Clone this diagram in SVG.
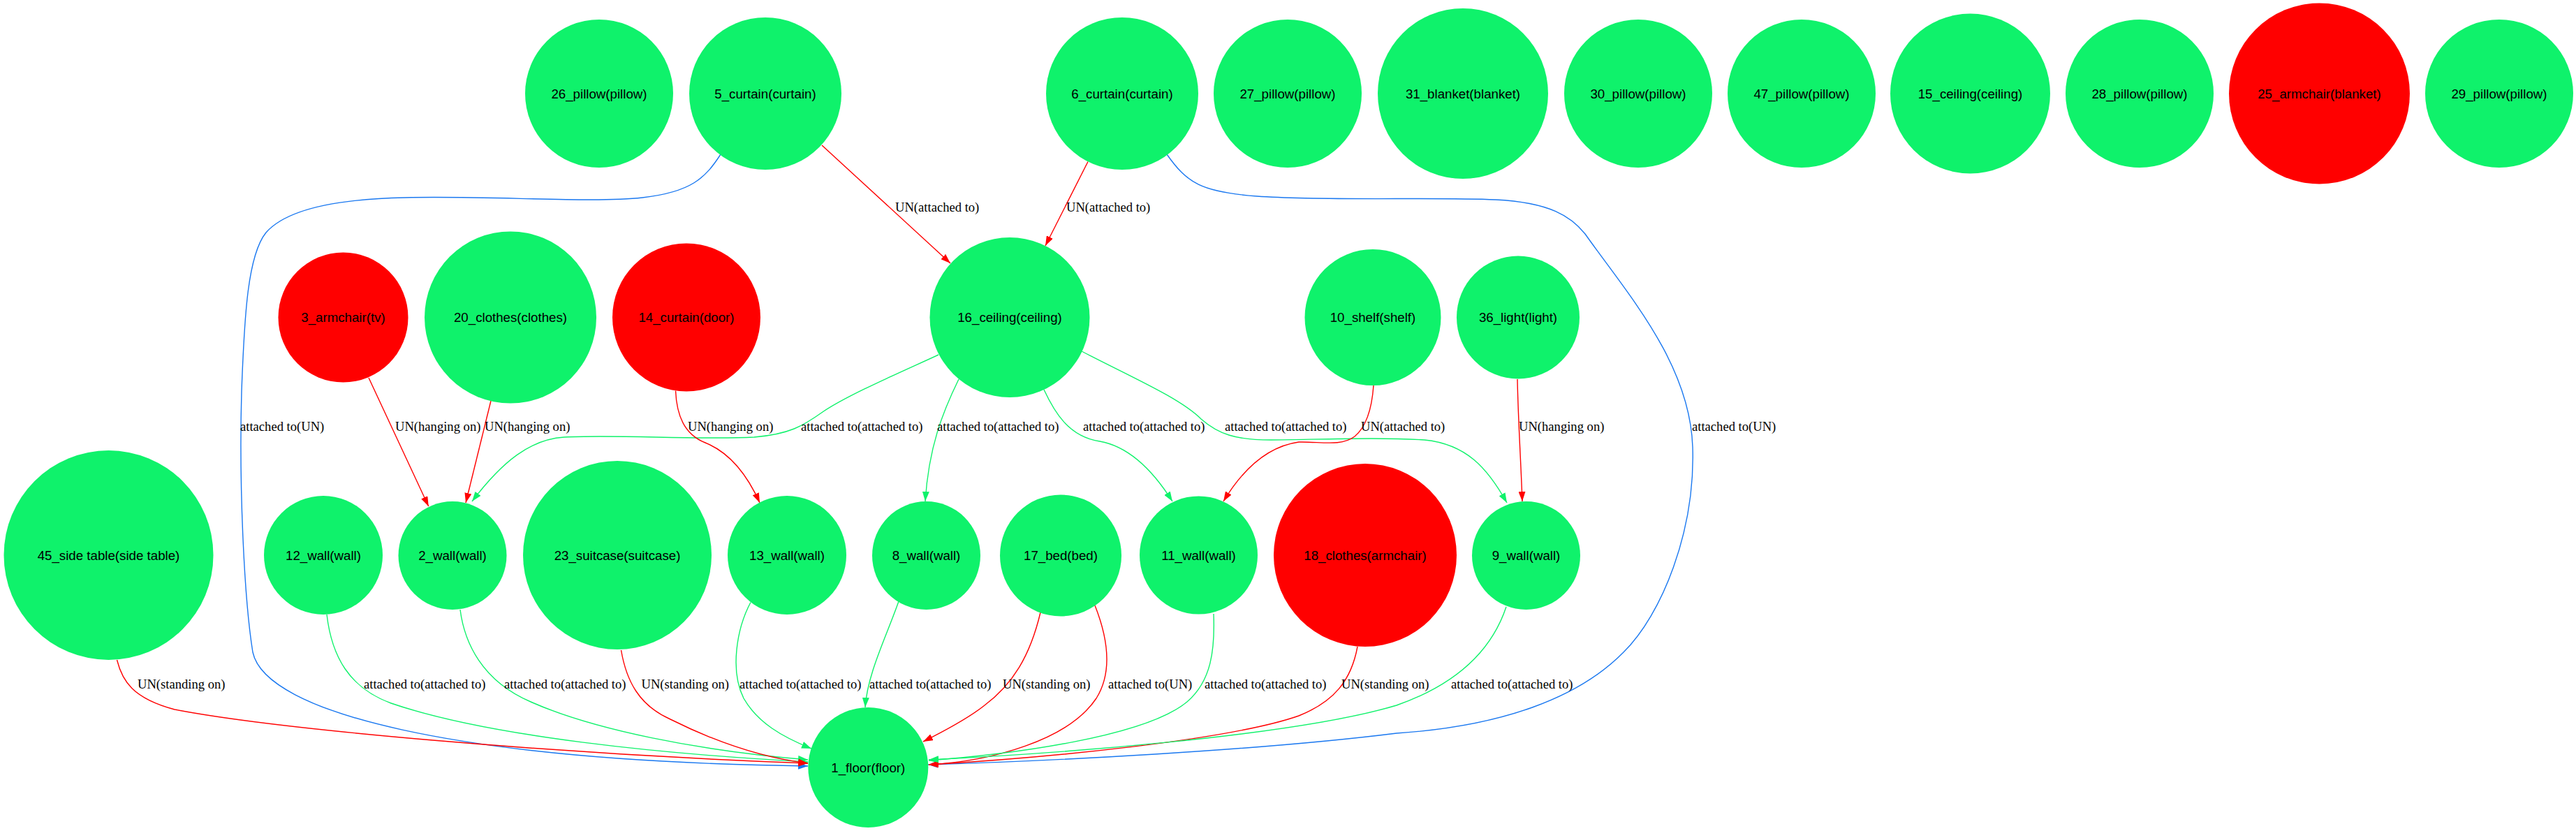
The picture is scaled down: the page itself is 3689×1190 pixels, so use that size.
<svg xmlns="http://www.w3.org/2000/svg" width="3689" height="1190" viewBox="0 0 3689 1190">
<style>
.g{fill:#0ff26b}
.r{fill:#ff0000}
.nt{font-family:"Liberation Sans",Arial,sans-serif;font-size:18.7px;text-anchor:middle;fill:#000}
.el{font-family:"Liberation Serif","Times New Roman",serif;font-size:18.6px;fill:#000}
.e{fill:none;stroke-width:1.4}
.er{stroke:#ff0000}
.eg{stroke:#0ff26b}
.eb{stroke:#1a78f0}
</style>
<defs>
<marker id="ar" viewBox="0 0 14 10" refX="14" refY="5" markerWidth="14" markerHeight="10" markerUnits="userSpaceOnUse" orient="auto"><path d="M0,0 L14,5 L0,10 z" fill="#ff0000"/></marker>
<marker id="ag" viewBox="0 0 14 10" refX="14" refY="5" markerWidth="14" markerHeight="10" markerUnits="userSpaceOnUse" orient="auto"><path d="M0,0 L14,5 L0,10 z" fill="#0ff26b"/></marker>
<marker id="ab" viewBox="0 0 14 10" refX="14" refY="5" markerWidth="14" markerHeight="10" markerUnits="userSpaceOnUse" orient="auto"><path d="M0,0 L14,5 L0,10 z" fill="#1a78f0"/></marker>
</defs>
<rect width="3689" height="1190" fill="#ffffff"/>
<g id="edges">
<path class="e er" marker-end="url(#ar)" d="M1177,208 L1361,377"/>
<text class="el" x="1282" y="303">UN(attached to)</text>
<path class="e er" marker-end="url(#ar)" d="M1558,231.5 L1497,352"/>
<text class="el" x="1527" y="303">UN(attached to)</text>
<path class="e eb" marker-end="url(#ab)" d="M1032,221 C1010,255 990,275 920,283 C850,291 700,280 580,283 C480,285 410,300 381,333 C355,365 350,450 346,560 C342,700 350,860 362,934 C380,1020 650,1090 1157,1097"/>
<text class="el" x="344" y="617">attached to(UN)</text>
<path class="e eb" marker-end="url(#ab)" d="M1671,221 C1700,262 1720,275 1800,281 C1900,288 2050,282 2142,286 C2220,290 2250,310 2270,335 C2330,420 2420,520 2424,640 C2428,760 2380,880 2325,934 C2260,1000 2150,1040 2000,1050 C1800,1075 1500,1090 1329,1095"/>
<text class="el" x="2423" y="617">attached to(UN)</text>
<path class="e eg" marker-end="url(#ag)" d="M1344,508 C1290,533 1215,565 1178,590 C1150,610 1130,622 1080,626 C1000,630 880,622 808,626 C760,629 720,660 676,718"/>
<text class="el" x="1147" y="617">attached to(attached to)</text>
<path class="e eg" marker-end="url(#ag)" d="M1373,543 C1350,590 1330,640 1325,718"/>
<text class="el" x="1342" y="617">attached to(attached to)</text>
<path class="e eg" marker-end="url(#ag)" d="M1495,558 C1510,590 1530,625 1575,632 C1620,640 1655,680 1679,718"/>
<text class="el" x="1551" y="617">attached to(attached to)</text>
<path class="e eg" marker-end="url(#ag)" d="M1549,503 C1620,540 1690,570 1720,600 C1745,622 1770,630 1820,630 C1900,629 1980,626 2040,630 C2100,636 2130,670 2158,720"/>
<text class="el" x="1754" y="617">attached to(attached to)</text>
<path class="e er" marker-end="url(#ar)" d="M1967,552 C1965,580 1958,610 1940,625 C1920,640 1890,632 1860,633 C1810,640 1775,680 1752,718"/>
<text class="el" x="1949" y="617">UN(attached to)</text>
<path class="e er" marker-end="url(#ar)" d="M2173,543 C2174,600 2178,660 2180,718"/>
<text class="el" x="2175" y="617">UN(hanging on)</text>
<path class="e er" marker-end="url(#ar)" d="M528,541 L613.7,725"/>
<text class="el" x="566" y="617">UN(hanging on)</text>
<path class="e er" marker-end="url(#ar)" d="M703,574 L667,720"/>
<text class="el" x="694" y="617">UN(hanging on)</text>
<path class="e er" marker-end="url(#ar)" d="M967.5,559.5 C969,595 980,622 1010,634 C1045,648 1070,680 1088,720"/>
<text class="el" x="985" y="617">UN(hanging on)</text>
<path class="e er" marker-end="url(#ar)" d="M167.5,945 C175,975 190,1000 250,1016 C400,1045 800,1080 1157,1093"/>
<text class="el" x="197" y="985.5">UN(standing on)</text>
<path class="e eg" marker-end="url(#ag)" d="M468,880 C475,940 500,985 560,1007 C700,1055 950,1080 1157,1091"/>
<text class="el" x="521" y="985.5">attached to(attached to)</text>
<path class="e eg" marker-end="url(#ag)" d="M659,873 C665,920 690,975 760,1005 C850,1045 1000,1075 1157,1088"/>
<text class="el" x="722" y="985.5">attached to(attached to)</text>
<path class="e er" marker-end="url(#ar)" d="M889.5,931 C897,975 915,1010 960,1030 C1020,1060 1090,1085 1157,1093"/>
<text class="el" x="918.5" y="985.5">UN(standing on)</text>
<path class="e eg" marker-end="url(#ag)" d="M1075,862.5 C1055,900 1045,960 1065,1000 C1085,1035 1120,1055 1162,1072"/>
<text class="el" x="1059" y="985.5">attached to(attached to)</text>
<path class="e eg" marker-end="url(#ag)" d="M1287,861 C1270,910 1242,965 1239,1013"/>
<text class="el" x="1245" y="985.5">attached to(attached to)</text>
<path class="e er" marker-end="url(#ar)" d="M1490,877 C1475,940 1450,980 1410,1010 C1385,1030 1350,1048 1322,1062"/>
<text class="el" x="1436" y="985.5">UN(standing on)</text>
<path class="e er" marker-end="url(#ar)" d="M1568,867 C1585,910 1595,960 1570,1000 C1530,1060 1420,1090 1330,1095"/>
<text class="el" x="1587" y="985.5">attached to(UN)</text>
<path class="e eg" marker-end="url(#ag)" d="M1738,879 C1740,930 1735,975 1700,1005 C1640,1055 1450,1080 1330,1089"/>
<text class="el" x="1725" y="985.5">attached to(attached to)</text>
<path class="e er" marker-end="url(#ar)" d="M1944,926 C1935,975 1910,1005 1860,1025 C1760,1060 1500,1085 1330,1095"/>
<text class="el" x="1921" y="985.5">UN(standing on)</text>
<path class="e eg" marker-end="url(#ag)" d="M2157,869 C2140,920 2100,975 2000,1010 C1850,1055 1500,1080 1330,1088"/>
<text class="el" x="2078" y="985.5">attached to(attached to)</text>
</g>
<g id="n26"><circle class="g" cx="858" cy="134" r="106"/><text class="nt" x="858" y="140.5">26_pillow(pillow)</text></g>
<g id="n5"><circle class="g" cx="1096" cy="134" r="109"/><text class="nt" x="1096" y="140.5">5_curtain(curtain)</text></g>
<g id="n6"><circle class="g" cx="1607" cy="134" r="109"/><text class="nt" x="1607" y="140.5">6_curtain(curtain)</text></g>
<g id="n27"><circle class="g" cx="1844" cy="134" r="106"/><text class="nt" x="1844" y="140.5">27_pillow(pillow)</text></g>
<g id="n31"><circle class="g" cx="2095" cy="134" r="122"/><text class="nt" x="2095" y="140.5">31_blanket(blanket)</text></g>
<g id="n30"><circle class="g" cx="2346" cy="134" r="106"/><text class="nt" x="2346" y="140.5">30_pillow(pillow)</text></g>
<g id="n47"><circle class="g" cx="2580" cy="134" r="106"/><text class="nt" x="2580" y="140.5">47_pillow(pillow)</text></g>
<g id="n15"><circle class="g" cx="2821.5" cy="134" r="114.5"/><text class="nt" x="2821.5" y="140.5">15_ceiling(ceiling)</text></g>
<g id="n28"><circle class="g" cx="3064" cy="134" r="106"/><text class="nt" x="3064" y="140.5">28_pillow(pillow)</text></g>
<g id="n25"><circle class="r" cx="3321.5" cy="134" r="129.5"/><text class="nt" x="3321.5" y="140.5">25_armchair(blanket)</text></g>
<g id="n29"><circle class="g" cx="3579" cy="134" r="106"/><text class="nt" x="3579" y="140.5">29_pillow(pillow)</text></g>
<g id="n3"><circle class="r" cx="491.5" cy="454.5" r="93"/><text class="nt" x="491.5" y="461">3_armchair(tv)</text></g>
<g id="n20"><circle class="g" cx="731" cy="454.5" r="123"/><text class="nt" x="731" y="461">20_clothes(clothes)</text></g>
<g id="n14"><circle class="r" cx="983" cy="454.5" r="106"/><text class="nt" x="983" y="461">14_curtain(door)</text></g>
<g id="n16"><circle class="g" cx="1446" cy="454.5" r="114.5"/><text class="nt" x="1446" y="461">16_ceiling(ceiling)</text></g>
<g id="n10"><circle class="g" cx="1966" cy="454.5" r="97.5"/><text class="nt" x="1966" y="461">10_shelf(shelf)</text></g>
<g id="n36"><circle class="g" cx="2174" cy="454.5" r="88"/><text class="nt" x="2174" y="461">36_light(light)</text></g>
<g id="n45"><circle class="g" cx="155.5" cy="795" r="150"/><text class="nt" x="155.5" y="801.5">45_side table(side table)</text></g>
<g id="n12"><circle class="g" cx="463" cy="795" r="85"/><text class="nt" x="463" y="801.5">12_wall(wall)</text></g>
<g id="n2"><circle class="g" cx="648" cy="795.5" r="77.5"/><text class="nt" x="648" y="801.5">2_wall(wall)</text></g>
<g id="n23"><circle class="g" cx="884" cy="795" r="135"/><text class="nt" x="884" y="801.5">23_suitcase(suitcase)</text></g>
<g id="n13"><circle class="g" cx="1127" cy="795" r="85"/><text class="nt" x="1127" y="801.5">13_wall(wall)</text></g>
<g id="n8"><circle class="g" cx="1326.5" cy="795.5" r="77.5"/><text class="nt" x="1326.5" y="801.5">8_wall(wall)</text></g>
<g id="n17"><circle class="g" cx="1519" cy="795.5" r="87"/><text class="nt" x="1519" y="801.5">17_bed(bed)</text></g>
<g id="n11"><circle class="g" cx="1716.5" cy="795" r="84.5"/><text class="nt" x="1716.5" y="801.5">11_wall(wall)</text></g>
<g id="n18"><circle class="r" cx="1955" cy="795" r="131"/><text class="nt" x="1955" y="801.5">18_clothes(armchair)</text></g>
<g id="n9"><circle class="g" cx="2185.5" cy="795.5" r="77.5"/><text class="nt" x="2185.5" y="801.5">9_wall(wall)</text></g>
<g id="n1"><circle class="g" cx="1243.3" cy="1099" r="86"/><text class="nt" x="1243.3" y="1105.5">1_floor(floor)</text></g>
</svg>
